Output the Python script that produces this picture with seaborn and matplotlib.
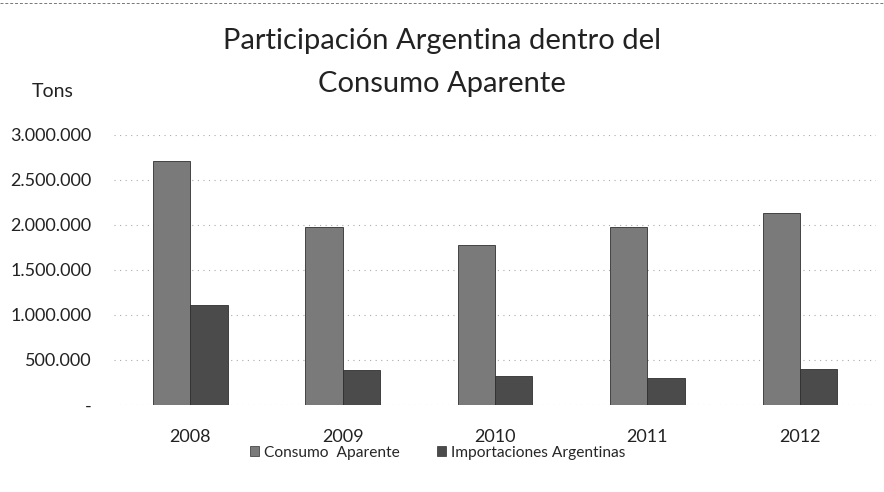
import pandas as pd
import matplotlib.pyplot as plt
import seaborn as sns
from matplotlib.lines import Line2D

years = ["2008", "2009", "2010", "2011", "2012"]
consumo = [2710000, 1980000, 1780000, 1980000, 2130000]
importaciones = [1110000, 390000, 320000, 300000, 400000]
series = ["Consumo  Aparente", "Importaciones Argentinas"]
ticks = [0, 500000, 1000000, 1500000, 2000000, 2500000, 3000000]
tick_labels = ["-", "500.000", "1.000.000", "1.500.000", "2.000.000", "2.500.000", "3.000.000"]

df = pd.DataFrame({
    "year": years * 2,
    "tons": consumo + importaciones,
    "serie": [series[0]] * len(years) + [series[1]] * len(years),
})

sns.set_style("white")
plt.rcParams["font.family"] = ["Lato", "DejaVu Sans"]

fig = plt.figure(figsize=(8.84, 4.92), dpi=100)
ax = fig.add_axes([0.129, 0.177, 0.862, 0.549])

sns.barplot(data=df, x="year", y="tons", hue="serie", order=years, hue_order=series,
            palette=["#7a7a7a", "#4b4b4b"], width=0.49, saturation=1,
            edgecolor="#303030", linewidth=0.6, ax=ax, legend=False)

ax.set_ylim(0, 3000000)
ax.set_yticks(ticks)
ax.set_yticklabels(tick_labels)
ax.set_xlabel("")
ax.set_ylabel("")
ax.tick_params(axis="y", length=0, pad=16, labelsize=13, colors="#222222")
ax.tick_params(axis="x", length=0, pad=17, labelsize=13, colors="#222222")
for s in ax.spines.values():
    s.set_visible(False)
ax.yaxis.grid(True, color="#aaaaaa", linestyle=(0, (1, 4)), linewidth=0.8)
ax.set_axisbelow(True)

fig.text(0.5, 0.917, "Participación Argentina dentro del", ha="center", va="center",
         fontsize=21, color="#222222")
fig.text(0.5, 0.83, "Consumo Aparente", ha="center", va="center",
         fontsize=21, color="#222222")
fig.text(0.036, 0.815, "Tons", ha="left", va="center", fontsize=14, color="#222222")

# dashed scan line at top
fig.add_artist(Line2D([0, 1], [0.993, 0.993], transform=fig.transFigure,
                      color="#777777", linestyle=(0, (3, 2)), linewidth=0.7))

handles = [plt.Rectangle((0, 0), 1, 1, facecolor=c, edgecolor="#303030", linewidth=0.5)
           for c in ["#7a7a7a", "#4b4b4b"]]
fig.legend(handles, series, loc="center", bbox_to_anchor=(0.495, 0.08), ncol=2,
           frameon=False, fontsize=11.2, handlelength=0.6, handleheight=0.6,
           handletextpad=0.3, columnspacing=2.4)

fig.savefig("out.png", dpi=100)
